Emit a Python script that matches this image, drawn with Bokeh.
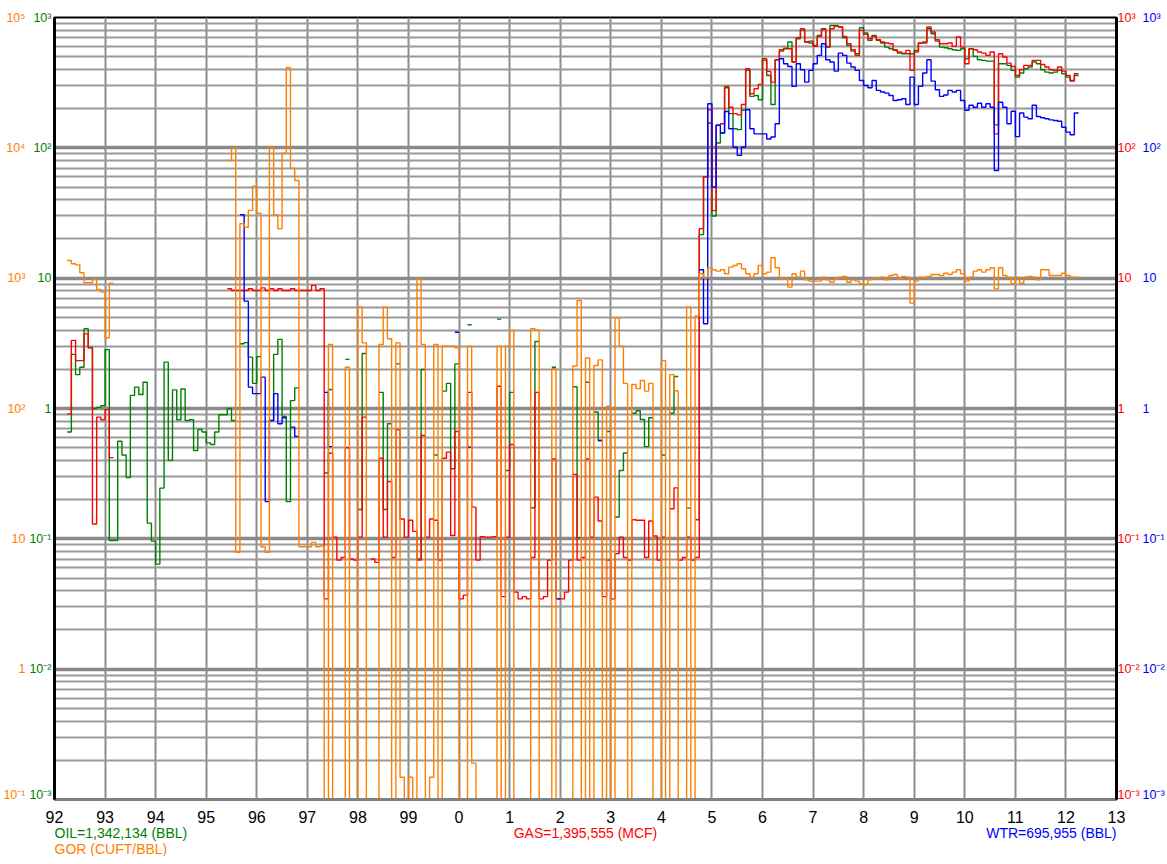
import math
from bokeh.plotting import figure
from bokeh.layouts import column
from bokeh.models import (Range1d, LogScale, LogAxis, LinearAxis, FixedTicker, Label,
                          CustomJSTickFormatter)
from bokeh.embed import file_html
from bokeh.resources import INLINE

N = None
START_YEAR = 1992  # monthly data, first month = Jan 1992

# OIL (BBL/month, plotted on 1e-3 .. 1e3 scale)
oil = (
    [N, N, N, 0.66, 2.6, 1.82, 2.07, 4.1, 2.94, 1.0, 1.02, 1.05] +            # 1992
    [2.83, 0.097, 0.097, 0.56, 0.44, 0.295, 1.26, 1.46, 1.28, 1.59, 0.132, 0.096] +  # 1993
    [0.064, 0.245, 2.27, 0.40, 1.39, 0.82, 1.41, 0.81, 0.82, 0.476, 0.69, 0.66] +   # 1994
    [0.545, 0.53, 0.66, 0.895, 0.895, 1.0, 0.81, N, 3.14, 3.2, 2.48, 1.56] +       # 1995
    [2.5, N, N, 0.81, 2.6, 3.39, 0.87, 0.193, 1.15, 1.44, N, N] +                  # 1996
    [N, N, N, N, 0.32, 1.40, N, N, N, 2.38, N, N] +                                # 1997
    [0.168, 2.64, N, N, N, 1.33, 0.168, 0.763, N, 2.2, N, N] +                     # 1998
    [N, N, 0.07, 1.99, N, N, 0.44, N, 1.36, 1.56, 0.345, 2.2] +                    # 1999
    [N, N, 4.39, N, N, N, N, N, N, 4.85, N, 0.334] +                               # 2000
    [1.33, N, N, N, N, 0.173, 3.27, N, N, N, 2.07, N] +                            # 2001
    [N, N, N, 1.47, 0.102, N, 1.59, N, 0.94, 0.568, N, 0.666] +                    # 2002
    [N, 0.147, 0.334, 0.455, N, 0.92, 0.96, 0.823, 0.51, 0.85, N, N] +             # 2003
    [0.44, N, 0.92, 1.76, N, N, 0.172, N, 0.14, 21.6, 60, 155] +                   # 2004
    [30, 109, 130, 289, 183, 140, 138, 194, 393, 248, 252, 234] +                  # 2005
    [469, 359, 215, 474, 552, 576, 648, 455, 687, 796, 648, 637] +                 # 2006
    [611, 729, 808, 593, 869, 869, 845, 699, 611, 552, 527, 835] +                 # 2007
    [760, 667, 729, 667, 637, 593, 576, 559, 533, 527, 527, 527] +                 # 2008
    [559, 637, 648, 820, 750, 659, 593, 586, 576, 566, 559, 576] +                 # 2009
    [483, 576, 503, 474, 469, 463, 463, 150, 442, 442, 429, 393] +                 # 2010
    [349, 375, 404, 417, 455, 442, 397, 381, 375, 381, 393, 370] +                 # 2011
    [349, 325, 359]                                                                # 2012
)

# GAS (MCF/month)
gas = (
    [N, N, N, 0.91, 3.33, 2.33, 2.33, 3.74, 2.92, 0.130, 0.858, 0.819] +
    [0.98, 0.42, N, N, N, N, N, N, N, N, N, N] +
    [N] * 12 +
    [N, N, N, N, N, 8.3, 8.05, 8.05, 8.05, 8.05, 8.3, 8.05] +
    [8.05, 8.42, 8.05, 8.3, 8.05, 8.3, 8.05, 8.05, 8.3, 8.05, 8.05, 8.05] +
    [8.05, 8.8, 8.05, 8.3, 0.0346, 0.454, 0.103, 0.0687, 0.072, 0.50, 0.070, 0.0687] +
    [0.103, 0.858, N, 0.07, 0.066, 0.415, 0.103, 0.275, 0.072, 0.686, 0.142, 0.103] +
    [0.139, 0.114, 0.0687, 0.62, 0.103, 0.142, 0.139, 0.0687, 0.415, 0.463, 0.106, 0.666] +
    [0.0346, 0.037, 1.33, 0.175, 0.0687, 0.104, 0.103, 0.103, 0.104, 1.48, 0.036, 0.103] +
    [0.53, 0.039, 0.0346, 0.036, 0.0346, 0.072, 1.33, 0.0346, 0.036, 0.0687, 0.41, 0.0346] +
    [0.0346, 0.039, 0.0687, 0.312, 0.0687, 0.072, 0.41, 0.103, 0.209, 0.137, 0.036, 0.0687] +
    [0.0346, 0.077, 0.103, 0.072, 0.0687, 0.14, 0.139, 0.139, 0.072, 0.137, 0.105, 0.0687] +
    [0.103, N, 0.170, 0.246, 0.0687, 0.072, 0.103, 0.0687, 0.072, 24, 60, 196] +
    [33, 149, 153, 296, 205, 183, 179, 215, 404, 260, 284, 307] +
    [483, 386, 319, 474, 566, 582, 576, 455, 699, 820, 648, 659] +
    [600, 716, 820, 593, 820, 855, 845, 716, 629, 566, 512, 796] +
    [742, 687, 716, 675, 648, 637, 629, 566, 543, 533, 559, 393] +
    [543, 637, 637, 845, 773, 675, 629, 629, 637, 600, 708, 593] +
    [442, 576, 566, 543, 533, 512, 543, 128, 527, 497, 447, 421] +
    [359, 397, 429, 429, 469, 469, 436, 417, 397, 393, 417, 388] +
    [359, 329, 370]
)

# WATER (BBL/month)
water = (
    [N] * 12 + [N] * 12 + [N] * 12 +
    [N, N, N, N, N, N, N, N, 30.7, 6.66, 1.46, 1.30] +
    [1.30, 1.74, 0.193, 0.81, 1.30, 0.763, 0.85, N, 0.72, 0.61, N, N] +
    [N, N, N, N, 1.33, 0.51, N, N, N, N, N, N] +
    [N] * 12 +
    [N] * 11 + [3.85] +
    [N, N, 0.505] + [N] * 9 +
    [N] * 11 + [0.0346] +
    [N] * 9 + [0.568, N, N] +
    [N] * 12 +
    [N] * 9 + [11.6, 4.47, 218] +
    [50, 149, 130, 190, 140, 101, 87.5, 101, 196, 140, 128, 128] +
    [128, 117, 121, 153, 483, 442, 421, 296, 442, 397, 319, 393] +
    [442, 512, 629, 474, 455, 388, 533, 512, 447, 417, 393, 329] +
    [301, 289, 329, 276, 268, 263, 252, 231, 234, 238, 215, 349] +
    [215, 296, 375, 474, 325, 279, 248, 254, 276, 268, 276, 231] +
    [194, 212, 205, 220, 205, 218, 205, 67, 224, 205, 153, 191] +
    [122, 185, 172, 167, 212, 174, 170, 167, 164, 162, 160, 144] +
    [132, 126, 185]
)

# GOR (CUFT/BBL), own scale 1e-1 .. 1e5
gor = (
    [N, N, N, 1367, 1290, 1265, 1100, 922, 922, 977, 819, 781] +
    [349, 916] + [N] * 10 +
    [N] * 12 +
    [N, N, N, N, N, 8000, 9950, 7.9, 2620, 2460, 3310, 5080] +
    [3150, 8.7, 7.9, 10100, 3070, 2390, 9110, 41200, 6990, 5620, 8.7, 8.7] +
    [8.7, 9.4, 8.7, 8.8, 0.1, 310, 0.1, 0.1, 0.1, 207, 0.1, 0.1] +
    [600, 319, 0.1, 0.1, 0.1, 310, 600, 343, 0.1, 319, 0.148, 0.1] +
    [0.148, 0.1, 989, 310, 0.1, 0.148, 310, 0.1, 301, 301, 301, 292] +
    [0.1, 0.1, 301, 0.19, 0.1, 0.1, 0.1, 0.1, 0.1, 301, 0.1, 301] +
    [397, 0.1, 0.1, 0.1, 0.1, 410, 400, 0.1, 0.1, 0.1, 202, 0.1] +
    [0.1, 0.1, 0.1, 212, 674, 0.1, 244, 0.1, 214, 236, 0.1, 104] +
    [0.1, 497, 301, 156, 0.1, 153, 142, 164, 136, 156, 0.1, 0.1] +
    [233, 0.1, 182, 137, 0.1, 0.1, 600, 0.1, 514, 1080, 1000, 1200] +
    [1159, 1132, 1159, 1080, 1215, 1252, 1290, 1180, 1080, 1018, 1080, 1252] +
    [1080, 1112, 1435, 1202, 989, 989, 853, 1080, 1018, 1132, 972, 949] +
    [949, 949, 1018, 972, 931, 989, 1018, 1030, 931, 972, 949, 906] +
    [895, 972, 989, 1000, 1018, 972, 1049, 1067, 989, 1030, 1018, 643] +
    [949, 1018, 1018, 1030, 1067, 1067, 1049, 1092, 1067, 1112, 1159, 1080] +
    [949, 1018, 1132, 1159, 1112, 1159, 1202, 828, 1202, 1049, 1018, 906] +
    [1018, 915, 1018, 1030, 1018, 972, 1159, 1159, 1049, 1049, 1049, 1092] +
    [1049, 1018, 1018]
)

totals = {"oil": "OIL=1,342,134 (BBL)", "gor": "GOR (CUFT/BBL)",
          "gas": "GAS=1,395,555 (MCF)", "wtr": "WTR=695,955 (BBL)"}

C_OIL, C_GAS, C_WTR, C_GOR = "#008000", "#ff0000", "#0000ff", "#ff8000"
FONT = "Liberation Sans"
W = 1167
LB, RB = 54, 51
TOP, FRAME_H = 17, 782
MAIN_BOTTOM = 2
FOOT_H = 55


def steps(vals):
    xs, ys = [], []
    prev = None
    for i, v in enumerate(vals):
        if v is None:
            if prev is not None:
                xs.append(math.nan)
                ys.append(math.nan)
            prev = None
            continue
        t0 = START_YEAR + i / 12.0
        t1 = START_YEAR + (i + 1) / 12.0
        xs += [t0, t1]
        ys += [v, v]
        prev = v
    return xs, ys


years = list(range(1992, 2014))
decades = [10.0 ** e for e in range(-3, 4)]
minors = [k * 10.0 ** e for e in range(-3, 3) for k in range(2, 10)]
gor_decades = [10.0 ** e for e in range(-1, 6)]

xr = Range1d(1992, 2013)
p = figure(width=W, height=TOP + FRAME_H + MAIN_BOTTOM,
           x_range=xr, y_range=Range1d(1e-3, 1e3),
           y_axis_type="log", output_backend="svg", toolbar_location=None,
           min_border_left=LB, min_border_right=RB, min_border_top=TOP,
           min_border_bottom=MAIN_BOTTOM)
p.extra_y_ranges = {"gor": Range1d(0.1, 1e5)}
p.extra_y_scales = {"gor": LogScale()}

p.background_fill_color = "white"
p.border_fill_color = "white"
p.outline_line_color = "black"
p.outline_line_width = 2

sup_js = """
const sup = {"-": "\u207b", "0": "\u2070", "1": "\u00b9", "2": "\u00b2", "3": "\u00b3",
             "4": "\u2074", "5": "\u2075", "6": "\u2076", "7": "\u2077", "8": "\u2078", "9": "\u2079"};
const e = Math.round(Math.log10(tick));
if (e === 0) return "1";
if (e === 1) return "10";
return "10" + String(e).split("").map(c => sup[c]).join("");
"""

ytick = FixedTicker(ticks=decades, minor_ticks=minors)
gortick = FixedTicker(ticks=gor_decades)
xtick = FixedTicker(ticks=years)
year_fmt = CustomJSTickFormatter(code="return String(Math.round(tick) % 100);")


def style_axis(ax, color, line_color=None, standoff=2):
    ax.ticker = ytick if ax.y_range_name == "default" else gortick
    ax.formatter = CustomJSTickFormatter(code=sup_js)
    ax.major_label_text_color = color
    ax.major_label_text_font = FONT
    ax.major_label_text_font_size = "12.5px"
    ax.major_label_standoff = standoff
    ax.major_tick_line_color = None
    ax.minor_tick_line_color = None
    ax.major_tick_out = 0
    ax.major_tick_in = 0
    ax.minor_tick_out = 0
    ax.minor_tick_in = 0
    if line_color:
        ax.axis_line_color = line_color
        ax.axis_line_width = 3
    else:
        ax.axis_line_color = None


# left: oil (inner), gor (outer)
style_axis(p.yaxis[0], C_OIL, "black", 3)
ax_gor = LogAxis(y_range_name="gor")
style_axis(ax_gor, C_GOR, None, 1)
p.add_layout(ax_gor, "left")
# right: gas (inner), water (outer)
ax_gas = LogAxis()
style_axis(ax_gas, C_GAS, "black", 1)
p.add_layout(ax_gas, "right")
ax_wtr = LogAxis()
style_axis(ax_wtr, C_WTR, None, 0)
p.add_layout(ax_wtr, "right")

# bottom axis of the chart: only its grey line (year labels are drawn just below)
xa = p.xaxis[0]
xa.ticker = xtick
xa.formatter = CustomJSTickFormatter(code="return '';")
xa.major_label_standoff = 0
xa.major_label_text_font_size = "1px"
xa.major_tick_line_color = None
xa.minor_tick_line_color = None
xa.major_tick_out = 0
xa.major_tick_in = 0
xa.minor_tick_out = 0
xa.axis_line_color = "#808080"
xa.axis_line_width = 3

p.xgrid.ticker = xtick
p.xgrid.grid_line_color = "#8c8c8c"
p.xgrid.grid_line_width = 2
p.ygrid.ticker = ytick
p.ygrid.grid_line_color = "#8a8a8a"
p.ygrid.grid_line_width = 3.5
p.ygrid.minor_grid_line_color = "#9a9a9a"
p.ygrid.minor_grid_line_width = 2

for vals, col, rng in [(oil, C_OIL, "default"), (gas, C_GAS, "default"),
                       (water, C_WTR, "default"), (gor, C_GOR, "gor")]:
    assert len(vals) == 243, len(vals)
    xs, ys = steps(vals)
    p.line(xs, ys, line_color=col, line_width=1.4, y_range_name=rng)

# footer: year labels (shared x range) and the cumulative totals
FT = 22  # room for the year labels above the totals
FH = FOOT_H - FT
f = figure(width=W, height=FOOT_H, x_range=xr, y_range=Range1d(0, FH),
           output_backend="svg", toolbar_location=None,
           min_border_left=LB, min_border_right=RB, min_border_top=FT,
           min_border_bottom=0, x_axis_location=None, y_axis_location=None)
f.grid.visible = False
f.outline_line_color = None
ya = LinearAxis(ticker=xtick, formatter=year_fmt)
ya.major_label_text_font = FONT
ya.major_label_text_font_size = "16px"
ya.major_label_text_color = "black"
ya.major_label_standoff = 1
ya.major_tick_line_color = None
ya.minor_tick_line_color = None
ya.major_tick_out = 0
ya.major_tick_in = 0
ya.minor_tick_out = 0
ya.axis_line_color = None
f.add_layout(ya, "above")

lab_kw = dict(text_font=FONT, text_font_size="14px", text_baseline="middle")
ROW1, ROW2 = 24, 8  # distance of the two text rows above the footer bottom
f.add_layout(Label(x=1992, y=ROW1, text=totals["oil"], text_color=C_OIL,
                   text_align="left", **lab_kw))
f.add_layout(Label(x=1992, y=ROW2, text=totals["gor"], text_color=C_GOR,
                   text_align="left", **lab_kw))
f.add_layout(Label(x=2002.5, y=ROW1, text=totals["gas"], text_color=C_GAS,
                   text_align="center", **lab_kw))
f.add_layout(Label(x=2013, y=ROW1, text=totals["wtr"], text_color=C_WTR,
                   text_align="right", **lab_kw))

layout = column(p, f, spacing=0)
open("out.html", "w").write(file_html(layout, INLINE))
